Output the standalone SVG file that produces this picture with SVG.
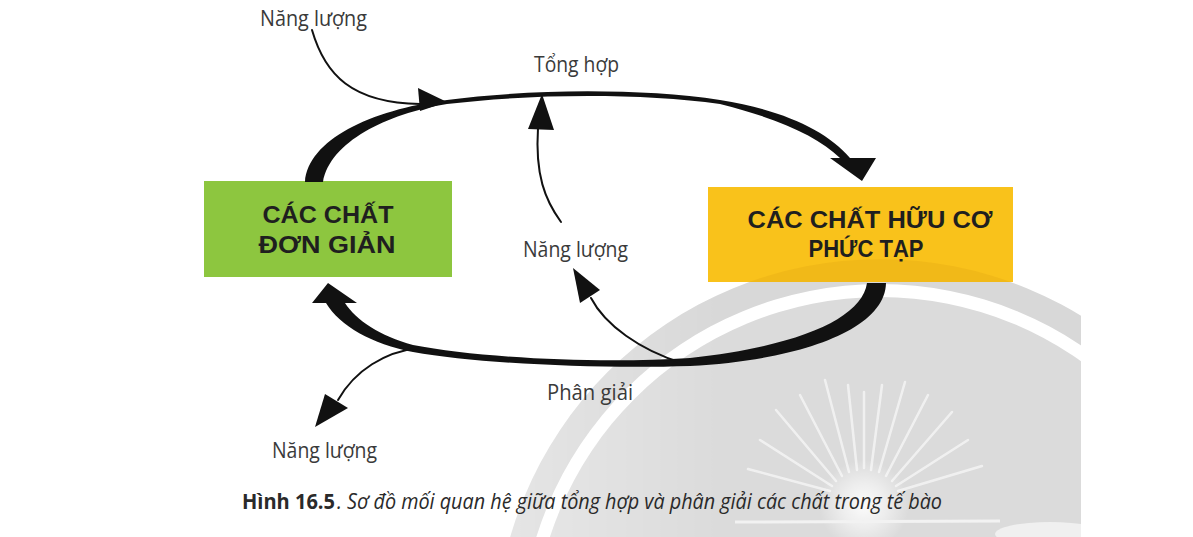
<svg xmlns="http://www.w3.org/2000/svg" width="1193" height="537" viewBox="0 0 1193 537">
  <style>
    .lbl { font-family: "Open Sans", "Liberation Sans", sans-serif; font-size: 22px; fill: #3a3a3a; }
    .box-txt { font-family: "Liberation Sans", "Open Sans", sans-serif; font-size: 24px; font-weight: 700; fill: #1f1f1f; text-anchor: middle; }
    .cap-b { font-family: "Open Sans", "Liberation Sans", sans-serif; font-size: 21px; font-weight: 700; fill: #2a2a2a; }
    .cap-i { font-family: "Open Sans", "Liberation Sans", sans-serif; font-size: 21px; font-style: italic; fill: #2a2a2a; }
    .thin { fill: none; stroke: #111; stroke-width: 2; stroke-linecap: round; }
    .head { fill: #111; }
    .ray { stroke: #ffffff; stroke-width: 2.5; stroke-linecap: round; opacity: 0.6; }
  </style>
  <defs>
    <clipPath id="wmclip"><rect x="0" y="0" width="1081" height="537"/></clipPath>
    <clipPath id="boxclip"><rect x="708" y="187" width="305" height="95"/></clipPath>
    <linearGradient id="fade" x1="470" y1="0" x2="720" y2="0" gradientUnits="userSpaceOnUse">
      <stop offset="0" stop-color="#fff" stop-opacity="0.6"/>
      <stop offset="1" stop-color="#fff" stop-opacity="1"/>
    </linearGradient>
    <mask id="wmmask"><rect x="0" y="0" width="1193" height="537" fill="url(#fade)"/></mask>
    <radialGradient id="glow" cx="864" cy="505" r="45" gradientUnits="userSpaceOnUse">
      <stop offset="0" stop-color="#fff" stop-opacity="0.9"/>
      <stop offset="0.5" stop-color="#fff" stop-opacity="0.5"/>
      <stop offset="1" stop-color="#fff" stop-opacity="0"/>
    </radialGradient>
  </defs>

  <rect x="0" y="0" width="1193" height="537" fill="#ffffff"/>

  <g id="watermark" clip-path="url(#wmclip)" mask="url(#wmmask)">
    <path d="M 495,644 A 385,385 0 0 1 1265,644 L 1240,644 A 360,360 0 0 0 520,644 Z" fill="#d8d8d8"/>
    <circle cx="880" cy="644" r="347" fill="#dbdbdb"/>
    <g>
      <line class="ray" x1="830" y1="491" x2="748" y2="469"/>
      <line class="ray" x1="832" y1="486" x2="760" y2="440"/>
      <line class="ray" x1="836" y1="481" x2="776" y2="410"/>
      <line class="ray" x1="842" y1="476" x2="800" y2="395"/>
      <line class="ray" x1="849" y1="472" x2="825" y2="380"/>
      <line class="ray" x1="857" y1="470" x2="848" y2="385"/>
      <line class="ray" x1="864" y1="468" x2="864" y2="392"/>
      <line class="ray" x1="871" y1="470" x2="882" y2="385"/>
      <line class="ray" x1="879" y1="472" x2="905" y2="382"/>
      <line class="ray" x1="886" y1="476" x2="928" y2="395"/>
      <line class="ray" x1="892" y1="481" x2="952" y2="412"/>
      <line class="ray" x1="896" y1="486" x2="968" y2="440"/>
      <line class="ray" x1="898" y1="491" x2="982" y2="466"/>
      <circle cx="864" cy="505" r="45" fill="url(#glow)"/>
      <path d="M 735,522 L 1000,521" stroke="#f2f2f2" stroke-width="3"/>
      <ellipse cx="1050" cy="534" rx="55" ry="12" fill="#f0f0f0"/>
    </g>
  </g>

  <g id="node-simple">
    <rect x="204" y="181" width="248" height="96" fill="#8dc63f"/>
    <text class="box-txt" x="328" y="223" textLength="131" lengthAdjust="spacingAndGlyphs">CÁC CHẤT</text>
    <text class="box-txt" x="327" y="253" textLength="137" lengthAdjust="spacingAndGlyphs">ĐƠN GIẢN</text>
  </g>

  <g id="node-complex">
    <rect x="708" y="187" width="305" height="95" fill="#f9c21b"/>
    <path clip-path="url(#boxclip)" d="M 495,644 A 385,385 0 0 1 1265,644 L 1240,644 A 360,360 0 0 0 520,644 Z" fill="#b06a00" opacity="0.1"/>
    <text class="box-txt" x="870" y="228" textLength="245" lengthAdjust="spacingAndGlyphs">CÁC CHẤT HỮU CƠ</text>
    <text class="box-txt" x="866" y="257" textLength="115" lengthAdjust="spacingAndGlyphs">PHỨC TẠP</text>
  </g>

  <g id="connectors">
    <path class="head" d="M 305,182 C 308,140 370,110 447,100 C 530,89 640,88 720,100 C 782,110 826,130 850,158 L 876,158 L 862,181 L 830,158 L 840,158 C 818,136 776,118 720,104 C 640,93 530,94 447,104 C 386,114 330,142 323,182 Z"/>
    <path class="thin" d="M 312,30 C 325,75 352,103 420,104"/>
    <polygon class="head" points="418,88 447,102 420,111"/>
    <path class="thin" d="M 561,222 C 545,200 535,175 538,128"/>
    <polygon class="head" points="542,94 528,129 554,130"/>
    <path class="head" d="M 867,283 C 862,318 800,346 690,358 C 600,364 480,358 413,345 C 380,336 356,320 345,303 L 357,303 L 328,283 L 312,303 L 326,303 C 340,326 372,344 413,352 C 480,364 600,369 690,366 C 800,360 885,330 886,283 Z"/>
    <path class="thin" d="M 418,348 C 385,352 355,370 338,400"/>
    <polygon class="head" points="325,394 348,408 315,427"/>
    <path class="thin" d="M 682,363 C 640,350 605,325 591,298"/>
    <polygon class="head" points="573,268 580,303 600,290"/>
  </g>

  <g id="labels">
    <text class="lbl" x="260" y="26" textLength="107" lengthAdjust="spacingAndGlyphs">Năng lượng</text>
    <text class="lbl" x="534" y="72" textLength="85" lengthAdjust="spacingAndGlyphs">Tổng hợp</text>
    <text class="lbl" x="523" y="257" textLength="105" lengthAdjust="spacingAndGlyphs">Năng lượng</text>
    <text class="lbl" x="547" y="400" textLength="86" lengthAdjust="spacingAndGlyphs">Phân giải</text>
    <text class="lbl" x="272" y="458" textLength="105" lengthAdjust="spacingAndGlyphs">Năng lượng</text>
  </g>

  <g id="caption">
    <text class="cap-b" x="242" y="509" textLength="93" lengthAdjust="spacingAndGlyphs">Hình 16.5</text>
    <text class="cap-i" x="337" y="509" textLength="605" lengthAdjust="spacingAndGlyphs">. Sơ đồ mối quan hệ giữa tổng hợp và phân giải các chất trong tế bào</text>
  </g>
</svg>
